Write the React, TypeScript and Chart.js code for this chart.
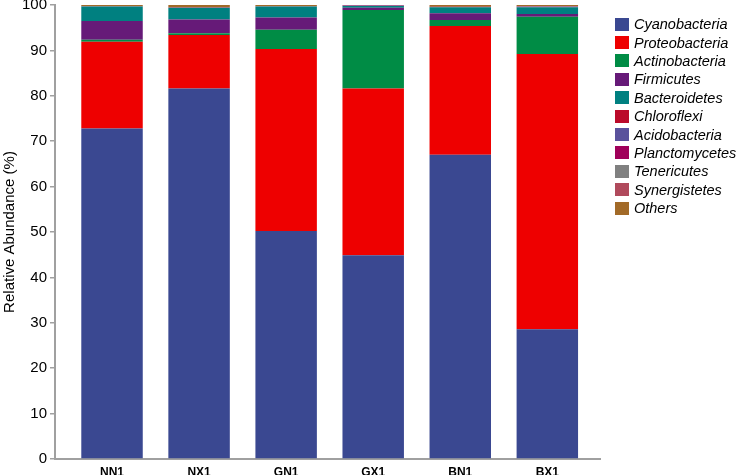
import React, { useEffect, useRef } from 'react';
import { Chart, registerables } from 'chart.js';

Chart.register(...registerables);

const categories = ['NN1', 'NX1', 'GN1', 'GX1', 'BN1', 'BX1'];
const phyla = [
  'Cyanobacteria',
  'Proteobacteria',
  'Actinobacteria',
  'Firmicutes',
  'Bacteroidetes',
  'Chloroflexi',
  'Acidobacteria',
  'Planctomycetes',
  'Tenericutes',
  'Synergistetes',
  'Others',
];
const phylumColors = [
  '#3A4891',
  '#EE0000',
  '#008C45',
  '#661A78',
  '#008080',
  '#BB0A2A',
  '#5A529C',
  '#A0005A',
  '#808080',
  '#B04A5C',
  '#A26A28',
];

const cyanobacteria = [72.8, 81.6, 50.2, 44.9, 67.0, 28.6];
const proteobacteria = [19.1, 11.8, 40.1, 36.7, 28.4, 60.6];
const actinobacteria = [0.45, 0.4, 4.25, 17.3, 1.3, 8.2];
const firmicutes = [4.1, 3.0, 2.7, 0.5, 1.5, 0.6];
const bacteroidetes = [3.2, 2.6, 2.4, 0.4, 1.3, 1.5];
const chloroflexi = [0.05, 0.05, 0.05, 0.02, 0.05, 0.05];
const acidobacteria = [0.02, 0.02, 0.02, 0.15, 0.02, 0.05];
const planctomycetes = [0.02, 0.02, 0.02, 0.02, 0.02, 0.05];
const tenericutes = [0.02, 0.02, 0.02, 0.01, 0.02, 0.02];
const synergistetes = [0.02, 0.02, 0.02, 0.01, 0.02, 0.05];
const others = [0.22, 0.47, 0.22, 0.0, 0.37, 0.28];

const seriesValues = [
  cyanobacteria,
  proteobacteria,
  actinobacteria,
  firmicutes,
  bacteroidetes,
  chloroflexi,
  acidobacteria,
  planctomycetes,
  tenericutes,
  synergistetes,
  others,
];

const yTicks = [0, 10, 20, 30, 40, 50, 60, 70, 80, 90, 100];

export default function App() {
  const canvasRef = useRef<HTMLCanvasElement | null>(null);

  useEffect(() => {
    if (!canvasRef.current) return;
    const datasets = phyla.map((name, k) => ({
      label: name,
      data: seriesValues[k].map((v, i) => ({ x: i, y: v })),
      backgroundColor: phylumColors[k],
      borderWidth: 0,
      categoryPercentage: 1,
      barPercentage: 0.706,
    }));

    const chart = new Chart(canvasRef.current, {
      type: 'bar',
      data: { datasets },
      options: {
        animation: false,
        responsive: false,
        maintainAspectRatio: false,
        layout: { padding: { top: 5, right: 139, bottom: 0, left: 0 } },
        plugins: { legend: { display: false }, tooltip: { enabled: false } },
        scales: {
          x: {
            type: 'linear',
            stacked: true,
            offset: false,
            min: -0.655,
            max: 5.605,
            grid: { display: false, drawTicks: false, offset: false },
            border: { display: true, color: '#A0A0A0', width: 2 },
            afterBuildTicks: (scale: any) => {
              scale.ticks = categories.map((_, i) => ({ value: i }));
            },
            afterFit: (scale: any) => {
              scale.height = 16;
            },
            ticks: {
              padding: 6,
              color: '#000',
              font: { family: 'Arial, "Liberation Sans", sans-serif', size: 12, weight: 'bold' },
              callback: (v: any) => categories[v as number] ?? '',
              maxRotation: 0,
              autoSkip: false,
            },
          },
          y: {
            stacked: true,
            min: 0,
            max: 100,
            afterBuildTicks: (scale: any) => {
              scale.ticks = yTicks.map((v) => ({ value: v }));
            },
            afterFit: (scale: any) => {
              scale.width = 55;
              scale.paddingTop = 0;
              scale.paddingBottom = 0;
            },
            grid: {
              display: true,
              drawOnChartArea: false,
              drawTicks: true,
              tickLength: 5,
              color: '#A0A0A0',
              lineWidth: 1.5,
            },
            border: { display: true, color: '#A0A0A0', width: 2 },
            ticks: {
              padding: 3,
              color: '#000',
              font: { family: 'Arial, "Liberation Sans", sans-serif', size: 15 },
            },
            title: {
              display: true,
              text: 'Relative Abundance (%)',
              color: '#000',
              padding: { top: 1, bottom: 0 },
              font: { family: 'Arial, "Liberation Sans", sans-serif', size: 15 },
            },
          },
        },
      },
    });
    return () => chart.destroy();
  }, []);

  return (
    <div style={{ position: 'fixed', left: 0, top: 0, width: 739, height: 475, background: '#fff' }}>
      <canvas ref={canvasRef} width={739} height={475} style={{ display: 'block' }} />
      <div style={{ position: 'absolute', left: 615, top: 15 }}>
        {phyla.map((name, k) => (
          <div
            key={name}
            style={{
              display: 'flex',
              alignItems: 'center',
              height: 18.4,
              fontFamily: 'Arial, "Liberation Sans", sans-serif',
              fontStyle: 'italic',
              fontSize: 14.5,
              color: '#000',
              whiteSpace: 'nowrap',
            }}
          >
            <span
              style={{
                display: 'inline-block',
                width: 14,
                height: 13,
                background: phylumColors[k],
                marginRight: 5,
              }}
            />
            <span>{name}</span>
          </div>
        ))}
      </div>
    </div>
  );
}
